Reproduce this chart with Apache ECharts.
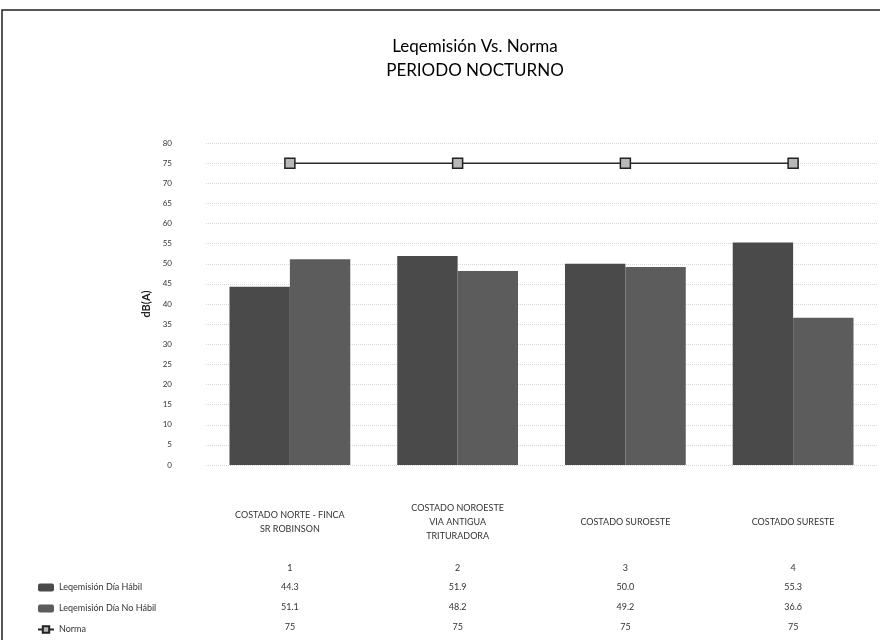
<!DOCTYPE html>
<html>
<head>
<meta charset="utf-8">
<script src="https://cdn.jsdelivr.net/npm/echarts@6/dist/echarts.min.js"></script>
<style>html,body{margin:0;padding:0;background:#fff}#c{width:880px;height:640px}</style>
</head>
<body>
<div id="c"></div>
<script>
var categories = ['COSTADO NORTE - FINCA\nSR ROBINSON', 'COSTADO NOROESTE\nVIA ANTIGUA\nTRITURADORA', 'COSTADO SUROESTE', 'COSTADO SURESTE'];
var indexLabels = ['1', '2', '3', '4'];
var seriesNames = ['Leqemisión Día Hábil', 'Leqemisión Día No Hábil', 'Norma'];
var habil = [44.3, 51.9, 50.0, 55.3];
var noHabil = [51.1, 48.2, 49.2, 36.6];
var norma = [75, 75, 75, 75];

var FONT = 'Lato, "Open Sans", sans-serif';
var fmt = function (v) { return v.toFixed(1); };

function tableAxis(data, offset) {
  return {
    type: 'category', gridIndex: 0, position: 'bottom', offset: offset,
    data: data,
    axisLine: {show: false}, axisTick: {show: false}, splitLine: {show: false},
    axisLabel: {margin: 0, verticalAlign: 'middle', fontSize: 9, color: '#333', fontFamily: FONT}
  };
}

var chart = echarts.init(document.getElementById('c'));
chart.setOption({
  backgroundColor: '#fff',
  animation: false,
  title: {
    text: 'Leqemisión Vs. Norma\nPERIODO NOCTURNO',
    left: 470, top: 30, textAlign: 'center',
    textStyle: {fontFamily: FONT, fontSize: 17, fontWeight: 'normal', color: '#000', lineHeight: 24}
  },
  legend: {
    orient: 'vertical', left: 37, top: 583, itemGap: 12, padding: 0,
    itemWidth: 16, itemHeight: 8,
    textStyle: {fontFamily: FONT, fontSize: 9, color: '#333'},
    data: seriesNames
  },
  grid: {left: 206, right: 3, top: 143, bottom: 175},
  xAxis: [
    {
      type: 'category', data: categories,
      axisLine: {show: false}, axisTick: {show: false},
      axisLabel: {margin: 57, verticalAlign: 'middle', fontSize: 9, color: '#333', fontFamily: FONT, lineHeight: 14, interval: 0}
    },
    tableAxis(indexLabels, 103),
    tableAxis(habil.map(fmt), 122),
    tableAxis(noHabil.map(fmt), 142),
    tableAxis(norma.map(String), 162)
  ],
  yAxis: {
    type: 'value', min: 0, max: 80, interval: 5,
    name: 'dB(A)', nameLocation: 'middle', nameGap: 52, nameRotate: 90,
    nameTextStyle: {fontFamily: FONT, fontSize: 11, fontWeight: 'bold', color: '#222'},
    axisLine: {show: false}, axisTick: {show: false},
    axisLabel: {margin: 34, fontSize: 8, color: '#333', fontFamily: FONT},
    splitLine: {show: true, lineStyle: {color: '#d8d8d8', type: 'dotted', width: 1}}
  },
  series: [
    {
      name: seriesNames[0], type: 'bar', data: habil,
      barGap: '0%', barCategoryGap: '28%',
      itemStyle: {color: '#4a4a4a'}
    },
    {
      name: seriesNames[1], type: 'bar', data: noHabil,
      itemStyle: {color: '#5c5c5c'}
    },
    {
      name: seriesNames[2], type: 'line', data: norma,
      symbol: 'rect', symbolSize: 10,
      lineStyle: {color: '#2a2a2a', width: 1.5},
      itemStyle: {color: '#b8b8b8', borderColor: '#222', borderWidth: 1.5}
    }
  ],
  graphic: [
    {type: 'rect', shape: {x: 2, y: 10, width: 900, height: 700}, style: {fill: 'none', stroke: '#222', lineWidth: 1.5}, silent: true}
  ]
});
</script>
</body>
</html>
